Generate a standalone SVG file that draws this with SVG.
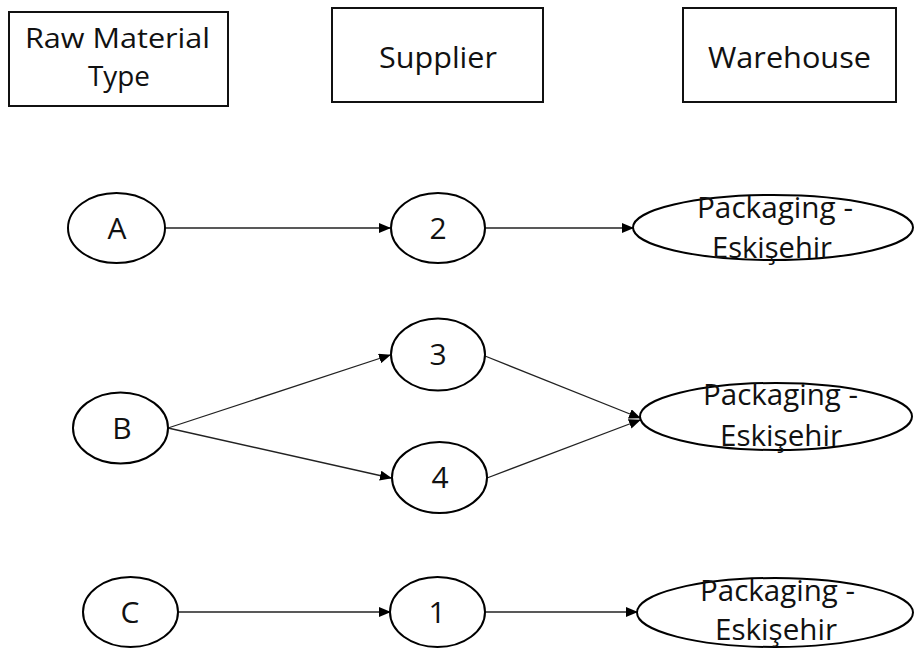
<svg xmlns="http://www.w3.org/2000/svg" width="914" height="649" viewBox="0 0 914 649">
<defs>
<style>
.box{fill:#fff;stroke:#111;stroke-width:2}
.node{fill:#fff;stroke:#000;stroke-width:2}
.t{font-family:"Open Sans","Liberation Sans",sans-serif;font-size:29px;fill:#111}
.s{font-size:27px}
.n{font-size:30px}
.c{text-anchor:middle}
.edge{stroke:#222;stroke-width:1.3;fill:none;marker-end:url(#arr)}
</style>
<marker id="arr" markerUnits="userSpaceOnUse" markerWidth="12" markerHeight="10" refX="11" refY="5" orient="auto">
<path d="M0,0 L12,5 L0,10 Z" fill="#000"/>
</marker>
</defs>
<rect width="914" height="649" fill="#fff"/>
<g id="hdr-raw"><rect class="box" x="9" y="12" width="219" height="94"/>
<text class="t s" x="25" y="48" textLength="185" lengthAdjust="spacingAndGlyphs">Raw Material</text>
<text class="t s" x="88" y="86" textLength="62" lengthAdjust="spacingAndGlyphs">Type</text></g>
<g id="hdr-supplier"><rect class="box" x="332" y="8" width="211" height="94"/>
<text class="t" x="379" y="68" textLength="118" lengthAdjust="spacingAndGlyphs">Supplier</text></g>
<g id="hdr-warehouse"><rect class="box" x="683" y="8" width="213" height="94"/>
<text class="t" x="708" y="68" textLength="163" lengthAdjust="spacingAndGlyphs">Warehouse</text></g>
<g id="edges">
<line class="edge" x1="165" y1="228" x2="390" y2="228"/>
<line class="edge" x1="485" y1="228" x2="633" y2="228"/>
<line class="edge" x1="168" y1="428" x2="390" y2="355"/>
<line class="edge" x1="168" y1="428" x2="391" y2="478"/>
<line class="edge" x1="485" y1="356" x2="640" y2="418"/>
<line class="edge" x1="487" y1="478" x2="640" y2="420"/>
<line class="edge" x1="178" y1="612" x2="390" y2="612"/>
<line class="edge" x1="485" y1="612" x2="637" y2="612"/>
</g>
<g id="nA"><ellipse class="node" cx="116.5" cy="228" rx="48.5" ry="35"/><text class="t n c" x="117" y="239">A</text></g>
<g id="nB"><ellipse class="node" cx="120.5" cy="428" rx="47.5" ry="35.5"/><text class="t n c" x="122" y="439">B</text></g>
<g id="nC"><ellipse class="node" cx="130.5" cy="612" rx="47.5" ry="35"/><text class="t n c" x="130" y="623">C</text></g>
<g id="n2"><ellipse class="node" cx="438" cy="228" rx="47" ry="35"/><text class="t n c" x="438" y="239">2</text></g>
<g id="n3"><ellipse class="node" cx="438" cy="354.5" rx="47" ry="36"/><text class="t n c" x="438" y="365">3</text></g>
<g id="n4"><ellipse class="node" cx="439.5" cy="477.5" rx="47.5" ry="35.5"/><text class="t n c" x="440" y="488">4</text></g>
<g id="n1"><ellipse class="node" cx="437.5" cy="612" rx="47.5" ry="35"/><text class="t n c" x="437" y="623">1</text></g>
<g id="w1"><ellipse class="node" cx="773" cy="227.5" rx="140" ry="32.5"/>
<text class="t" x="697" y="218" textLength="156" lengthAdjust="spacingAndGlyphs">Packaging -</text>
<text class="t" x="712" y="258" textLength="120" lengthAdjust="spacingAndGlyphs">Eskişehir</text></g>
<g id="w2"><ellipse class="node" cx="776" cy="416.5" rx="136" ry="33.5"/>
<text class="t" x="703" y="405" textLength="155" lengthAdjust="spacingAndGlyphs">Packaging -</text>
<text class="t" x="720" y="446" textLength="122" lengthAdjust="spacingAndGlyphs">Eskişehir</text></g>
<g id="w3"><ellipse class="node" cx="775" cy="612.5" rx="138" ry="34.5"/>
<text class="t" x="700" y="601" textLength="155" lengthAdjust="spacingAndGlyphs">Packaging -</text>
<text class="t" x="715" y="640" textLength="122" lengthAdjust="spacingAndGlyphs">Eskişehir</text></g>
</svg>
